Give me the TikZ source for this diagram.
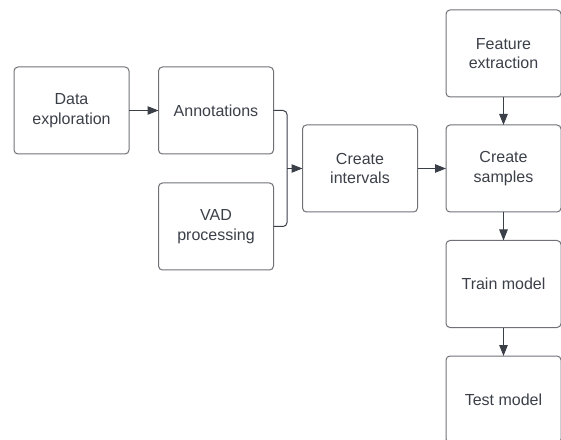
\documentclass[tikz,border=0pt]{standalone}
\usepackage{fontspec}
\setmainfont{Liberation Sans}
\usetikzlibrary{arrows.meta}
\definecolor{boxline}{HTML}{6F7176}
\definecolor{inktext}{HTML}{3A3F48}
\definecolor{linkline}{HTML}{3A3F48}
\tikzset{
  stepbox/.style={draw=boxline, line width=1pt, rounded corners=4pt,
    minimum width=115pt, minimum height=87pt, inner sep=0pt, outer sep=0pt,
    align=center, text=inktext,
    font=\fontsize{16pt}{19.5pt}\selectfont},
  flow/.style={draw=linkline, line width=1pt,
    -{Triangle[length=11pt,width=8.5pt]}},
  joiner/.style={draw=linkline, line width=1pt, rounded corners=4pt}
}
\begin{document}
\begin{tikzpicture}[x=1pt,y=1pt]
  \useasboundingbox (0,0) rectangle (561,439);
  \clip (0,0) rectangle (561,439);

  % left part of the pipeline
  \node[stepbox] (explore) at (71.5,328.5) {Data\\exploration};
  \node[stepbox] (annot)   at (216,328.5)  {Annotations};
  \node[stepbox] (vad)     at (216,212.5)  {VAD\\processing};
  \node[stepbox] (inter)   at (360,270.5)  {Create\\intervals};

  % right column
  \node[stepbox] (feat)    at (503.5,385.5) {Feature\\extraction};
  \node[stepbox] (samples) at (503.5,270.5) {Create\\samples};
  \node[stepbox] (train)   at (503.5,155)   {Train model};
  \node[stepbox] (test)    at (503.5,39.5)  {Test model};

  % merge point of annotations and VAD output
  \coordinate (merge) at (287,270.5);

  \draw[flow] (explore) -- (annot);
  \draw[joiner] (annot.east) -| (merge);
  \draw[joiner] (vad.east) -| (merge);
  \draw[flow] (merge) -- (inter.west);
  \draw[flow] (inter) -- (samples);
  \draw[flow] (feat) -- (samples);
  \draw[flow] (samples) -- (train);
  \draw[flow] (train) -- (test);
\end{tikzpicture}
\end{document}
